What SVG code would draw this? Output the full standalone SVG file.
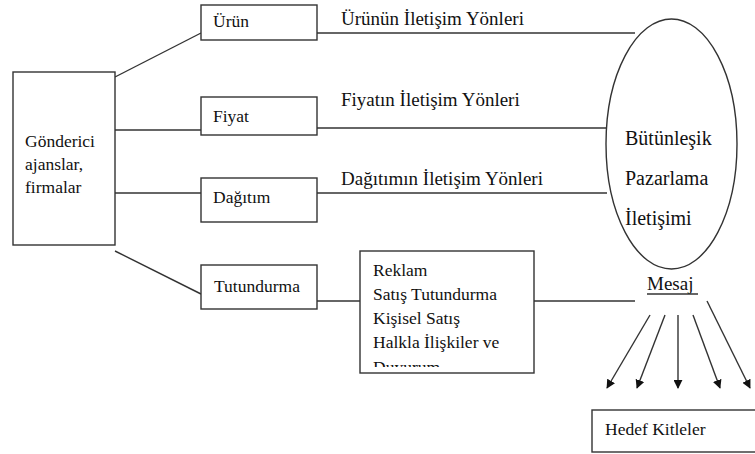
<svg xmlns="http://www.w3.org/2000/svg" width="755" height="454" viewBox="0 0 755 454" font-family="'Liberation Serif', 'DejaVu Serif', serif">
<defs>
<style>
text{font-family:'Liberation Serif','DejaVu Serif',serif;font-size:17.5px;fill:#111}
.box{fill:#fff;stroke:#333;stroke-width:1.4}
.ln{stroke:#333;stroke-width:1.4;fill:none}
.lbl{font-size:19px}
.big{font-size:20px}
</style>
<marker id="ah" viewBox="0 0 10 10" refX="9" refY="5" markerWidth="9" markerHeight="9" markerUnits="userSpaceOnUse" orient="auto">
<path d="M0,0 L10,5 L0,10 z" fill="#111"/>
</marker>
<clipPath id="rc"><rect x="361" y="252" width="172" height="115"/></clipPath>
</defs>
<g id="connectors">
<line class="ln" x1="115" y1="77" x2="201" y2="33"/>
<line class="ln" x1="115" y1="130" x2="201" y2="130"/>
<line class="ln" x1="115" y1="193" x2="201" y2="193"/>
<line class="ln" x1="115" y1="251" x2="201" y2="294"/>
<line class="ln" x1="317" y1="33" x2="635" y2="33"/>
<line class="ln" x1="317" y1="128" x2="607" y2="128"/>
<line class="ln" x1="317" y1="193" x2="607" y2="193"/>
<line class="ln" x1="317" y1="301" x2="360" y2="301"/>
<line class="ln" x1="534" y1="301" x2="635" y2="301"/>
<line class="ln" x1="650" y1="315" x2="607" y2="388" marker-end="url(#ah)"/>
<line class="ln" x1="665" y1="315" x2="637" y2="388" marker-end="url(#ah)"/>
<line class="ln" x1="678" y1="315" x2="678" y2="388" marker-end="url(#ah)"/>
<line class="ln" x1="693" y1="315" x2="720" y2="388" marker-end="url(#ah)"/>
<line class="ln" x1="707" y1="301" x2="750" y2="388" marker-end="url(#ah)"/>
<text class="lbl" x="341" y="25">Ürünün İletişim Yönleri</text>
<text class="lbl" x="341" y="106">Fiyatın İletişim Yönleri</text>
<text class="lbl" x="341" y="185">Dağıtımın İletişim Yönleri</text>
</g>
<g id="gonderici">
<rect class="box" x="13" y="72" width="102" height="173"/>
<text x="25" y="147">Gönderici</text>
<text x="25" y="170">ajanslar,</text>
<text x="25" y="193">firmalar</text>
</g>
<g id="urun">
<rect class="box" x="201" y="5" width="116" height="35"/>
<text x="213" y="27">Ürün</text>
</g>
<g id="fiyat">
<rect class="box" x="201" y="97" width="116" height="38"/>
<text x="213" y="122">Fiyat</text>
</g>
<g id="dagitim">
<rect class="box" x="201" y="178" width="116" height="44"/>
<text x="213" y="203">Dağıtım</text>
</g>
<g id="tutundurma">
<rect class="box" x="201" y="265" width="116" height="44"/>
<text x="214" y="292" font-size="18">Tutundurma</text>
</g>
<g id="araclar">
<rect class="box" x="360" y="251" width="174" height="122"/>
<g clip-path="url(#rc)">
<text x="373" y="276">Reklam</text>
<text x="373" y="300">Satış Tutundurma</text>
<text x="373" y="324">Kişisel Satış</text>
<text x="373" y="348">Halkla İlişkiler ve</text>
<text x="373" y="373">Duyurum</text>
</g>
</g>
<g id="butunlesik">
<ellipse class="ln" cx="671.5" cy="144" rx="65.5" ry="125"/>
<text class="big" x="625" y="145">Bütünleşik</text>
<text class="big" x="625" y="185">Pazarlama</text>
<text class="big" x="625" y="225">İletişimi</text>
</g>
<g id="mesaj">
<text class="lbl" x="647" y="290">Mesaj</text>
<line class="ln" x1="647" y1="294" x2="698" y2="294" stroke-width="1.2"/>
</g>
<g id="hedef">
<rect class="box" x="592" y="410" width="170" height="42"/>
<text x="605" y="435">Hedef Kitleler</text>
</g>
</svg>
